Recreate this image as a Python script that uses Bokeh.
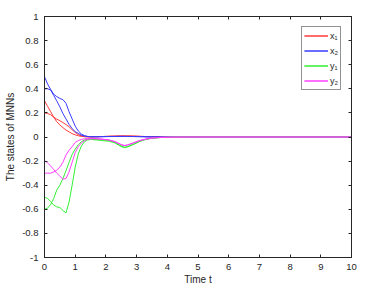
from bokeh.plotting import figure
from bokeh.models import Range1d, LinearAxis, FixedTicker, CustomJSTickFormatter
from bokeh.embed import file_html
from bokeh.resources import INLINE

# time samples
t = [0, 0.1, 0.2, 0.3, 0.4, 0.5, 0.6, 0.7, 0.8, 0.9, 1.0, 1.1, 1.2, 1.3, 1.4, 1.5,
     1.7, 1.9, 2.1, 2.3, 2.5, 2.6, 2.7, 2.9, 3.1, 3.3, 3.5, 3.8, 4.2, 5, 6, 7, 8, 9, 10]

# x1 (red), two components
x1_a = [0.30, 0.255, 0.21, 0.165, 0.127, 0.10, 0.078, 0.058, 0.043, 0.028, 0.018, 0.01, 0.005, 0.002, 0.001, 0.001,
        0.002, 0.004, 0.006, 0.008, 0.009, 0.009, 0.009, 0.008, 0.006, 0.004, 0.002, 0.001, 0, 0, 0, 0, 0, 0, 0]
x1_b = [0.20, 0.195, 0.185, 0.165, 0.148, 0.135, 0.12, 0.103, 0.085, 0.06, 0.038, 0.02, 0.01, 0.005, 0.002, 0.001,
        0.002, 0.004, 0.006, 0.007, 0.008, 0.008, 0.008, 0.007, 0.005, 0.003, 0.002, 0.001, 0, 0, 0, 0, 0, 0, 0]
# x2 (blue)
x2_a = [0.50, 0.44, 0.395, 0.355, 0.335, 0.32, 0.31, 0.28, 0.21, 0.15, 0.09, 0.05, 0.025, 0.012, 0.005, 0.002,
        0.002, 0.003, 0.004, 0.005, 0.005, 0.005, 0.005, 0.004, 0.003, 0.002, 0.001, 0, 0, 0, 0, 0, 0, 0, 0]
x2_b = [0.40, 0.40, 0.39, 0.345, 0.30, 0.25, 0.195, 0.15, 0.105, 0.07, 0.045, 0.03, 0.015, 0.008, 0.004, 0.002,
        0.002, 0.003, 0.004, 0.004, 0.005, 0.005, 0.004, 0.004, 0.003, 0.002, 0.001, 0, 0, 0, 0, 0, 0, 0, 0]
# y1 (green)
y1_a = [-0.60, -0.59, -0.56, -0.51, -0.44, -0.40, -0.345, -0.28, -0.21, -0.145, -0.10, -0.065, -0.04, -0.025, -0.02, -0.02,
        -0.02, -0.025, -0.03, -0.045, -0.075, -0.085, -0.08, -0.06, -0.035, -0.02, -0.01, -0.004, -0.001, 0, 0, 0, 0, 0, 0]
y1_b = [-0.50, -0.51, -0.535, -0.565, -0.58, -0.585, -0.61, -0.63, -0.54, -0.40, -0.25, -0.14, -0.075, -0.04, -0.025, -0.02,
        -0.025, -0.03, -0.035, -0.05, -0.08, -0.088, -0.083, -0.062, -0.037, -0.02, -0.01, -0.004, -0.001, 0, 0, 0, 0, 0, 0]
# y2 (magenta)
y2_a = [-0.195, -0.215, -0.24, -0.27, -0.30, -0.325, -0.35, -0.345, -0.29, -0.21, -0.13, -0.08, -0.05, -0.03, -0.02, -0.015,
        -0.015, -0.02, -0.025, -0.04, -0.065, -0.072, -0.068, -0.05, -0.03, -0.018, -0.009, -0.003, -0.001, 0, 0, 0, 0, 0, 0]
y2_b = [-0.30, -0.30, -0.30, -0.29, -0.275, -0.25, -0.21, -0.15, -0.11, -0.08, -0.045, -0.03, -0.02, -0.015, -0.012, -0.012,
        -0.013, -0.018, -0.024, -0.038, -0.063, -0.07, -0.066, -0.048, -0.029, -0.017, -0.008, -0.003, -0.001, 0, 0, 0, 0, 0, 0]

x_ticks = [0, 1, 2, 3, 4, 5, 6, 7, 8, 9, 10]
y_ticks = [-1, -0.8, -0.6, -0.4, -0.2, 0, 0.2, 0.4, 0.6, 0.8, 1]

INK = "#262626"
FONT = "Liberation Sans"
RED, BLUE, GREEN, MAGENTA = "#FF3A3A", "#3A3AFF", "#33F033", "#FF40FF"

p = figure(width=374, height=289, output_backend="svg", toolbar_location=None,
           x_range=Range1d(0, 10), y_range=Range1d(-1, 1),
           min_border_left=44, min_border_right=23, min_border_top=16, min_border_bottom=32,
           background_fill_color="white", border_fill_color="white")
p.grid.visible = False
p.outline_line_color = INK
p.outline_line_width = 1

series = [
    (x1_a, RED, "x\u2081"), (x1_b, RED, "x\u2081"),
    (x2_a, BLUE, "x\u2082"), (x2_b, BLUE, "x\u2082"),
    (y1_a, GREEN, "y\u2081"), (y1_b, GREEN, "y\u2081"),
    (y2_a, MAGENTA, "y\u2082"), (y2_b, MAGENTA, "y\u2082"),
]
for vals, col, lab in series:
    p.line(t, vals, line_color=col, line_width=1, legend_label=lab)

fmt = CustomJSTickFormatter(code="return String(Number(tick.toFixed(2)));")


def style(ax, ticks, labels=True):
    ax.ticker = FixedTicker(ticks=ticks)
    ax.major_tick_in = 3
    ax.major_tick_out = 0
    ax.minor_tick_line_color = None
    ax.axis_line_color = INK
    ax.major_tick_line_color = INK
    ax.major_label_text_font = FONT
    ax.major_label_text_color = INK
    if labels:
        ax.formatter = fmt
        ax.major_label_text_font_size = "9.5px"
    else:
        ax.major_label_text_font_size = "0px"
        ax.major_label_standoff = 0
    ax.axis_label_text_font = FONT
    ax.axis_label_text_font_size = "10px"
    ax.axis_label_text_font_style = "normal"
    ax.axis_label_text_color = INK


style(p.xaxis[0], x_ticks)
style(p.yaxis[0], y_ticks)
p.xaxis[0].axis_label = "Time t"
p.xaxis[0].major_label_standoff = 6
p.xaxis[0].axis_label_standoff = 1
p.yaxis[0].axis_label = "The states of MNNs"
p.yaxis[0].major_label_standoff = 6
p.yaxis[0].axis_label_standoff = 3

top = LinearAxis()
style(top, x_ticks, labels=False)
p.add_layout(top, "above")
right = LinearAxis()
style(right, y_ticks, labels=False)
p.add_layout(right, "right")

lg = p.legend[0]
lg.location = "top_right"
lg.margin = 10
lg.padding = 2
lg.spacing = 2
lg.glyph_width = 24
lg.glyph_height = 13
lg.label_height = 13
lg.label_width = 8
lg.label_standoff = 2
lg.label_text_font = FONT
lg.label_text_font_size = "9px"
lg.label_text_color = INK
lg.border_line_color = INK
lg.border_line_width = 1
lg.background_fill_color = "white"
lg.background_fill_alpha = 1

open("out.html", "w").write(file_html(p, INLINE))
